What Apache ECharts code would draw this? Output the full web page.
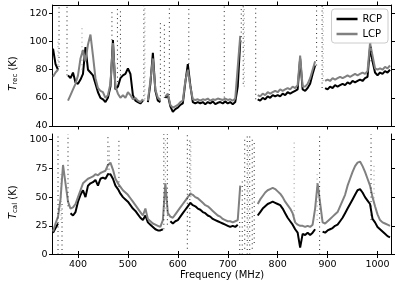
<!DOCTYPE html>
<html><head><meta charset="utf-8">
<script src="https://cdn.jsdelivr.net/npm/echarts@6/dist/echarts.min.js"></script>
<style>html,body{margin:0;padding:0;background:#fff}#c{width:397px;height:283px}</style>
</head><body><div id="c"></div>
<script>
// Frequency grid (MHz)
const freq = [
 350,355,360,365,370,375,380,385,390,395,
 400,405,410,415,420,425,430,435,440,445,
 450,455,460,465,470,475,480,485,490,495,
 500,505,510,515,520,525,530,535,540,545,
 550,555,560,565,570,575,580,585,590,595,
 600,605,610,615,620,625,630,635,640,645,
 650,655,660,665,670,675,680,685,690,695,
 700,705,710,715,720,725,730,735,740,745,
 750,755,760,765,770,775,780,785,790,795,
 800,805,810,815,820,825,830,835,840,845,
 850,855,860,865,870,875,880,885,890,895,
 900,905,910,915,920,925,930,935,940,945,
 950,955,960,965,970,975,980,985,990,995,
 1000,1005,1010,1015,1020,1025];

// T_rec, RCP (K)
const trecRCP = [
 95,84,80,null,null,null,76,74,78,71,
 70,73,77,96,80,78,76,70,64,60,
 59,57,60,68,101,66,68,74,76,77,
 81,77,62,58,57,56,58,null,57,70,
 92,65,58,57,null,60,62,54,50,52,
 53,55,56,71,84,69,57,56,57,56,
 57,55.5,57,56,57.5,55.5,56.5,57,56,57.5,
 56,57,55.5,57,68,100,null,null,null,null,
 null,null,59,58,60,59,61,60,62,61,
 62,61,63,62,64,63,64,65,66,88,
 66,65,67,70,77,83,null,null,null,67,
 66,68,67,69,68,69,70,69,71,70,
 72,71,72,73,72,74,75,96,86,78,
 76,78,77,79,78,80];

// T_rec, LCP (K)
const trecLCP = [
 75,78,80,null,null,null,58,62,66,70,
 76,88,94,86,98,105,90,74,67,65,
 64,60,62,70,99,68,63,60,62,60,
 64,62,59,60,58,57,59,null,58,72,
 88,66,60,59,null,61,63,55,53,54,
 55,57,58,72,80,68,59,58.5,59,58,
 59,58.5,59.5,58,59,58.5,59.5,59,58.5,59.5,
 58.5,59,58,59.5,82,104,null,null,null,null,
 null,null,62,61,63,62,64,63,64,65,
 64,66,65,66,67,66,68,67,69,90,
 68,68,70,74,80,86,null,null,null,72,
 73,72,74,73,74,75,74,75,76,75,
 76,77,76,77,78,77,79,99,90,81,
 80,81,80,82,81,83];

// T_cal, RCP (K)
const tcalRCP = [
 19,23,27,null,null,null,null,36,34,37,
 46,52,56,50,60,62,63,65,60,66,
 67,66,70,70,66,60,57,53,50,48,
 46,43,40,38,35,32,30,34,28,26,
 24,22,21,21,22,null,null,29,27,29,
 30,33,36,39,42,45,43,42,40,39,
 37,36,34,33,31,30,29,28,27,26,
 25,24,25,24,26,null,null,null,null,null,
 null,null,34,37,40,42,44,45,46,45,
 44,43,40,36,32,29,26,22,19,6,
 18,17,19,17,19,22,null,null,20,19,
 21,22,23,25,26,29,32,36,40,44,
 48,52,56,57,54,50,47,44,31,28,
 24,22,20,18,16,15];

// T_cal, LCP (K)
const tcalLCP = [
 20,27,33,48,78,62,46,40,41,44,
 50,56,62,64,66,67,68,70,69,71,
 72,73,78,80,74,66,62,59,56,54,
 52,49,46,43,40,37,34,40,31,29,
 27,26,25,24,30,62,36,33,32,35,
 38,41,44,47,50,53,52,50,49,47,
 45,43,42,40,38,36,34,33,31,30,
 29,29,28,29,30,60,null,null,null,null,
 null,null,44,48,51,54,56,57,58,57,
 55,53,50,46,43,40,36,28,26,25,
 25,24,25,24,26,40,62,45,28,27,
 29,31,33,35,37,42,47,52,60,66,
 72,77,80,81,77,72,66,60,50,42,
 35,30,28,27,26,25];

// Scattered narrow spikes: [freq, low, high]
const trecSpikesRCP = [[362,82,126],[378,76,126],[468,101,121],[479,68,124],[485,76,124],[532,58,126],
 [565,58,114],[573,60,112],[583,62,124],[622,84,126],[693,57,126],[727,100,126],[731,70,126],
 [756,59,126],[878,83,126],[889,67,126],[987,86,100]];
const trecSpikesLCP = [[360,80,100],[408,80,110],[534,59,126],[733,68,126],[891,72,126]];
const tcalSpikesRCP = [[360,0,105],[368,0,45],[380,42,105],[460,70,105],[482,55,100],[572,22,105],
 [579,26,105],[619,5,104],[624,20,100],[724,0,30],[729,0,65],[734,5,100],[739,0,104],[744,0,105],
 [749,5,100],[753,10,100],[884,0,105],[987,30,105]];
const tcalSpikesLCP = [[366,30,70],[463,70,95],[575,40,100],[626,50,100],[741,10,95],[833,30,100],
 [879,30,70],[993,45,80]];

const freqTicks = [400,500,600,700,800,900,1000];
const trecTicks = [40,60,80,100,120];
const tcalTicks = [0,25,50,75,100];

const FONT = 'DejaVu Sans';
const pair = arr => freq.map((f,i) => [f, arr[i] == null ? '-' : arr[i]]);
const spk = arr => { const d=[]; arr.forEach(s => { d.push([s[0],s[1]],[s[0],s[2]],[s[0],'-']); }); return d; };

const axLine = {show:true, lineStyle:{color:'#000', width:1}};
function xAx(g, pos, labels, name){
  return {type:'value', gridIndex:g, position:pos, min:349, max:1028,
    axisLine:axLine, splitLine:{show:false},
    axisTick:{show:true, inside:false, length:3.5, lineStyle:{color:'#000'}, customValues:freqTicks},
    axisLabel:{show:labels, customValues:freqTicks, formatter:v => String(v), margin:5, fontFamily:FONT, fontSize:9.5, color:'#000'},
    name:name||'', nameLocation:'middle', nameGap:15,
    nameTextStyle:{fontFamily:FONT, fontSize:10, color:'#000'}};
}
function yAx(g, pos, min, max, ticks, labels, name){
  return {type:'value', gridIndex:g, position:pos, min:min, max:max,
    axisLine:axLine, splitLine:{show:false},
    axisTick:{show:true, inside:false, length:3.5, lineStyle:{color:'#000'}, customValues:ticks},
    axisLabel:{show:labels, customValues:ticks, formatter:v => String(v), margin:5, fontFamily:FONT, fontSize:9.5, color:'#000'},
    name:name||'', nameLocation:'middle', nameGap:24, nameRotate:90,
    nameTextStyle:{fontFamily:FONT, fontSize:10, color:'#000', padding:[0,16,0,0],
      rich:{i:{fontFamily:FONT, fontStyle:'italic', fontSize:10, color:'#000'},
            s:{fontFamily:FONT, fontSize:7, color:'#000', padding:[4,0,0,0]},
            n:{fontFamily:FONT, fontSize:10, color:'#000'}}}};
}
function lineS(name, data, xi, yi, color){
  return {name:name, type:'line', xAxisIndex:xi, yAxisIndex:yi, data:data, showSymbol:false,
    symbol:'none', connectNulls:false, lineStyle:{color:color, width:2}, itemStyle:{color:color},
    animation:false, clip:true};
}
function spikeS(data, xi, yi, color){
  return {name:'_s', type:'line', xAxisIndex:xi, yAxisIndex:yi, data:data, symbol:'none',
    connectNulls:false, lineStyle:{color:color, width:1, type:[1,3.5], opacity:0.85}, animation:false, clip:true, z:3};
}

const chart = echarts.init(document.getElementById('c'), null, {renderer:'canvas'});
chart.setOption({
  animation:false,
  backgroundColor:'#fff',
  grid:[{left:39.5, right:5.5, top:5, height:121},
        {left:39.5, right:5.5, top:134, height:120.5}],
  xAxis:[xAx(0,'bottom',false), xAx(0,'top',false), xAx(1,'bottom',true,'Frequency (MHz)'), xAx(1,'top',false)],
  yAxis:[yAx(0,'left',40,126,trecTicks,true,'{i|T}{s|rec}{n| (K)}'), yAx(0,'right',40,126,trecTicks,false),
         yAx(1,'left',0,105,tcalTicks,true,'{i|T}{s|cal}{n| (K)}'), yAx(1,'right',0,105,tcalTicks,false)],
  legend:{data:['RCP','LCP'], orient:'vertical', right:9, top:9, icon:'rect', itemWidth:21, itemHeight:2.5,
    itemGap:5, padding:[5,6,4,5], backgroundColor:'rgba(255,255,255,0.85)', borderColor:'#ccc',
    borderWidth:1, borderRadius:3, textStyle:{fontFamily:FONT, fontSize:10, color:'#000'}},
  series:[
    lineS('RCP', pair(trecRCP), 0, 0, '#000'),
    lineS('LCP', pair(trecLCP), 0, 0, '#808080'),
    spikeS(spk(trecSpikesRCP), 0, 0, '#000'),
    spikeS(spk(trecSpikesLCP), 0, 0, '#808080'),
    lineS('RCP', pair(tcalRCP), 2, 2, '#000'),
    lineS('LCP', pair(tcalLCP), 2, 2, '#808080'),
    spikeS(spk(tcalSpikesRCP), 2, 2, '#000'),
    spikeS(spk(tcalSpikesLCP), 2, 2, '#808080')
  ]
});
</script></body></html>
